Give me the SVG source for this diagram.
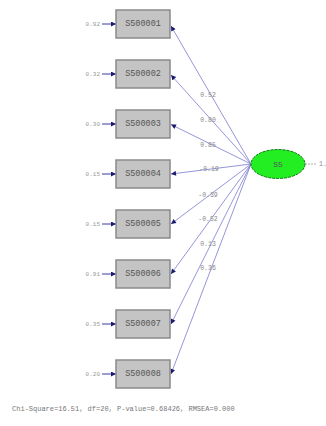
<svg xmlns="http://www.w3.org/2000/svg" width="326" height="426" viewBox="0 0 326 426">
<style>
.box{fill:#c4c4c4;stroke:#8a8a8a;stroke-width:1.5}
.bl{font-family:"Liberation Mono",monospace;font-size:8.5px;fill:#555;text-anchor:middle;dominant-baseline:central}
.el{font-family:"Liberation Mono",monospace;font-size:6px;fill:#999;text-anchor:end;dominant-baseline:central}
.pl{font-family:"Liberation Mono",monospace;font-size:6.5px;fill:#888;text-anchor:middle;dominant-baseline:central}
.ln{stroke:#7a7ad0;stroke-width:0.8;fill:none}
.er{stroke:#3a3aa0;stroke-width:1;fill:none}
</style>
<defs>
<marker id="ah" viewBox="0 0 10 10" refX="10" refY="5" markerWidth="7" markerHeight="5" orient="auto" markerUnits="userSpaceOnUse">
<path d="M0,0 L10,5 L0,10 z" fill="#1a1a70"/>
</marker>
</defs>
<rect width="326" height="426" fill="#ffffff"/>
<g id="connectors">
<line class="ln" x1="251" y1="164" x2="171" y2="26" marker-end="url(#ah)"/>
<line class="ln" x1="251" y1="164" x2="171" y2="75" marker-end="url(#ah)"/>
<line class="ln" x1="251" y1="164" x2="171" y2="124.5" marker-end="url(#ah)"/>
<line class="ln" x1="251" y1="164" x2="171" y2="174" marker-end="url(#ah)"/>
<line class="ln" x1="251" y1="164" x2="171" y2="224" marker-end="url(#ah)"/>
<line class="ln" x1="251" y1="164" x2="171" y2="274" marker-end="url(#ah)"/>
<line class="ln" x1="251" y1="164" x2="171" y2="324" marker-end="url(#ah)"/>
<line class="ln" x1="251" y1="164" x2="171" y2="374" marker-end="url(#ah)"/>
<line class="er" x1="102" y1="24" x2="116" y2="24" marker-end="url(#ah)"/>
<line class="er" x1="102" y1="74" x2="116" y2="74" marker-end="url(#ah)"/>
<line class="er" x1="102" y1="124" x2="116" y2="124" marker-end="url(#ah)"/>
<line class="er" x1="102" y1="174" x2="116" y2="174" marker-end="url(#ah)"/>
<line class="er" x1="102" y1="224" x2="116" y2="224" marker-end="url(#ah)"/>
<line class="er" x1="102" y1="274" x2="116" y2="274" marker-end="url(#ah)"/>
<line class="er" x1="102" y1="324" x2="116" y2="324" marker-end="url(#ah)"/>
<line class="er" x1="102" y1="374" x2="116" y2="374" marker-end="url(#ah)"/>
<line x1="305" y1="164" x2="317" y2="164" stroke="#999" stroke-width="0.8" stroke-dasharray="2,1"/>
<text class="pl" x="208" y="95">0.52</text>
<text class="pl" x="208" y="120">0.80</text>
<text class="pl" x="208" y="145">0.85</text>
<text class="pl" x="209" y="169">-0.19</text>
<text class="pl" x="208" y="195">-0.39</text>
<text class="pl" x="208" y="219">-0.52</text>
<text class="pl" x="208" y="244">0.13</text>
<text class="pl" x="208" y="268">0.36</text>
</g>
<g id="S500001"><rect class="box" x="116" y="10" width="54" height="28"/><text class="bl" x="143" y="24">S500001</text><text class="el" x="100" y="24">0.92</text></g>
<g id="S500002"><rect class="box" x="116" y="60" width="54" height="28"/><text class="bl" x="143" y="74">S500002</text><text class="el" x="100" y="74">0.32</text></g>
<g id="S500003"><rect class="box" x="116" y="110" width="54" height="28"/><text class="bl" x="143" y="124">S500003</text><text class="el" x="100" y="124">0.30</text></g>
<g id="S500004"><rect class="box" x="116" y="160" width="54" height="28"/><text class="bl" x="143" y="174">S500004</text><text class="el" x="100" y="174">0.15</text></g>
<g id="S500005"><rect class="box" x="116" y="210" width="54" height="28"/><text class="bl" x="143" y="224">S500005</text><text class="el" x="100" y="224">0.15</text></g>
<g id="S500006"><rect class="box" x="116" y="260" width="54" height="28"/><text class="bl" x="143" y="274">S500006</text><text class="el" x="100" y="274">0.91</text></g>
<g id="S500007"><rect class="box" x="116" y="310" width="54" height="28"/><text class="bl" x="143" y="324">S500007</text><text class="el" x="100" y="324">0.35</text></g>
<g id="S500008"><rect class="box" x="116" y="360" width="54" height="28"/><text class="bl" x="143" y="374">S500008</text><text class="el" x="100" y="374">0.20</text></g>
<g id="S5">
<ellipse cx="278" cy="164" rx="27" ry="14.5" fill="#22ee22" stroke="#117711" stroke-width="1" stroke-dasharray="3,1"/>
<text class="bl" x="278" y="164" style="font-size:8px">S5</text>
<text x="319" y="164" style="font-family:'Liberation Mono',monospace;font-size:6.5px;fill:#888;dominant-baseline:central">1.</text>
</g>
<text x="12" y="411" style="font-family:'Liberation Mono',monospace;font-size:7px;fill:#777">Chi-Square=16.51, df=20, P-value=0.68426, RMSEA=0.000</text>
</svg>
